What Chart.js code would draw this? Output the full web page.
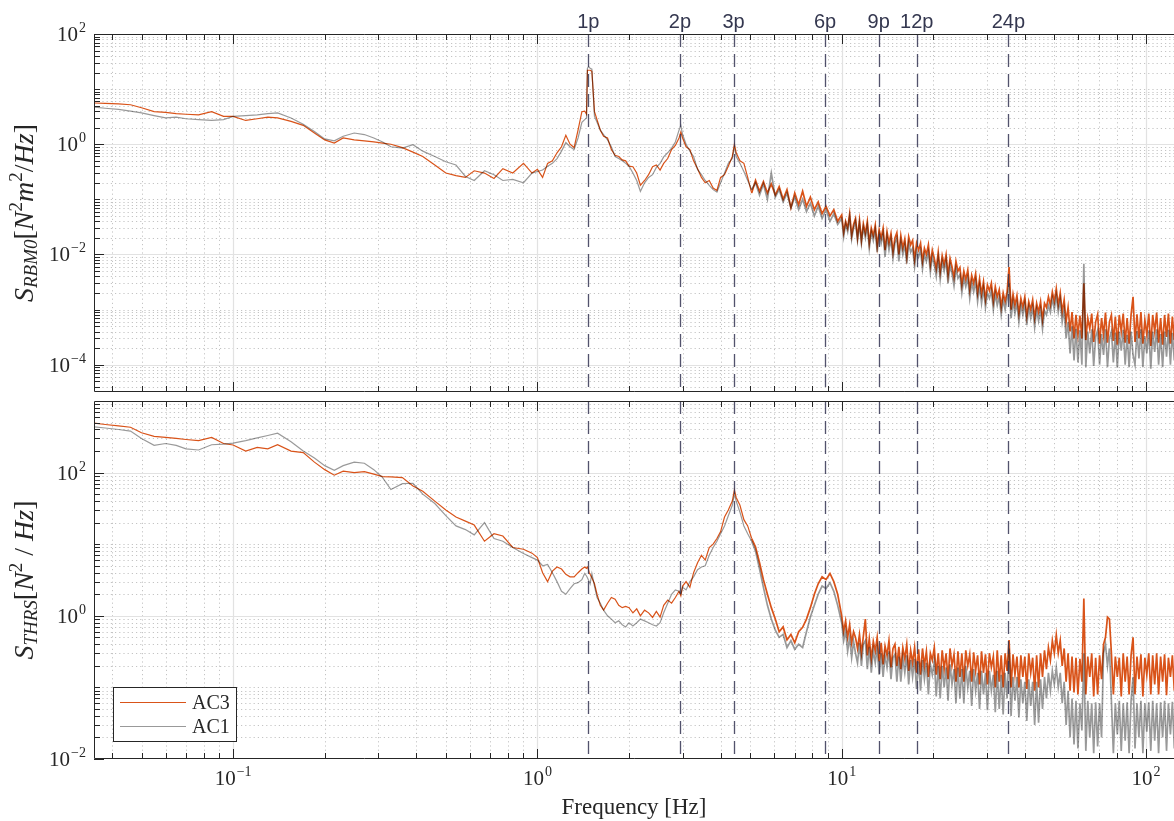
<!DOCTYPE html>
<html><head><meta charset="utf-8">
<script src="https://cdn.jsdelivr.net/npm/chart.js@4.4.1/dist/chart.umd.min.js"></script>
<style>
html,body{margin:0;padding:0;background:#fff;overflow:hidden;}
#wrap{position:relative;width:1174px;height:821px;background:#fff;}
canvas{position:absolute;left:0;}
#c1{top:0}
#c2{top:396px}
</style></head><body>
<div id="wrap"><canvas id="c1" width="1174" height="396"></canvas><canvas id="c2" width="1174" height="425"></canvas></div>
<script>
// ---------------- DATA ----------------
const freq = [
 0.035,0.038,0.042,0.046,0.05,0.055,0.06,0.065,0.07,0.077,0.085,0.093,0.1,0.11,0.12,0.13,0.14,0.155,0.17,0.185,0.2,0.215,0.23,0.25,0.27,0.29,0.31,0.33,0.36,0.39,0.42,0.46,0.5,0.54,0.58,0.62,0.67,0.72,0.77,0.83,0.9,0.96,
 1.0,1.04,1.08,1.12,1.16,1.2,1.24,1.28,1.32,1.36,1.4,1.43,1.45,1.46,1.47,1.48,1.49,1.51,1.54,1.57,1.61,1.65,1.7,1.75,1.8,1.85,1.9,1.95,
 2.0,2.06,2.12,2.18,2.25,2.32,2.39,2.46,2.53,2.6,2.68,2.76,2.84,2.92,2.96,3.0,3.08,3.17,3.26,3.36,3.46,3.56,3.67,3.78,3.89,4.0,4.12,4.24,4.37,4.44,4.5,4.63,4.77,4.91,5.06,5.21,5.37,5.53,5.7,5.87,6.05,6.23,6.42,6.61,6.81,7.01,7.22,7.44,7.66,7.89,8.13,8.37,8.62,8.88,9.15,9.42,9.7,
 10,10.15,10.3,10.46,10.62,10.78,10.94,11.1,11.27,11.44,
 11.61,11.78,11.96,12.14,12.32,12.51,12.7,12.89,13.08,13.28,
 13.48,13.68,13.88,14.09,14.3,14.52,14.74,14.96,15.18,15.41,
 15.64,15.88,16.12,16.36,16.6,16.85,17.1,17.36,17.62,17.89,
 18.16,18.43,18.7,18.98,19.27,19.56,19.85,20.15,20.45,20.76,
 21.07,21.39,21.71,22.03,22.36,22.7,23.04,23.39,23.74,24.1,
 24.46,24.82,25.2,25.57,25.96,26.35,26.74,27.14,27.55,27.96,
 28.38,28.81,29.24,29.68,30.12,30.58,31.03,31.5,31.97,32.45,
 32.94,33.43,33.93,34.44,34.96,35.48,36.02,36.56,37.1,37.66,
 38.22,38.8,39.38,39.97,40.57,41.18,41.8,42.42,43.06,43.71,
 44.36,45.03,45.7,46.39,47.08,47.79,48.51,49.23,49.97,50.72,
 51.48,52.26,53.04,53.84,54.64,55.46,56.3,57.14,58,58.87,
 59.75,60.65,61.56,62.48,63.42,64.37,65.34,66.32,67.31,68.32,
 69.35,70.39,71.44,72.52,73.6,74.71,75.83,76.97,78.12,79.3,
 80.49,81.69,82.92,84.16,85.42,86.7,88,89.32,90.66,92.02,
 93.4,94.8,96.23,97.67,99.14,100.6,102.1,103.7,105.2,106.8,
 108.4,110,111.7,113.4,115.1,116.8,118.5,120.3,122.1,123.9
];

// S_RBM0 [N^2 m^2 / Hz]
const ac3Rbm0 = [
 5.6,5.5,5.4,5.2,4.6,3.9,3.8,3.6,3.5,3.4,3.9,3.2,3.2,2.7,2.9,3.1,3.0,2.6,2.2,1.6,1.2,1.05,1.3,1.2,1.15,1.1,1.05,1.0,0.87,0.72,0.6,0.42,0.3,0.27,0.25,0.33,0.3,0.24,0.36,0.3,0.45,0.3,
 0.35,0.25,0.45,0.5,0.7,0.9,1.45,1.0,0.87,1.8,3.9,4.0,3.5,22,22,22,22,21,3.9,2.8,1.8,1.4,1.3,0.8,0.63,0.6,0.52,0.5,
 0.4,0.39,0.3,0.18,0.22,0.28,0.39,0.42,0.34,0.45,0.55,0.8,0.95,1.3,1.66,1.3,0.9,0.8,0.5,0.36,0.25,0.2,0.22,0.16,0.145,0.25,0.28,0.4,0.6,1.0,0.7,0.5,0.45,0.25,0.13,0.22,0.14,0.21,0.13,0.19,0.12,0.17,0.1,0.15,0.07,0.13,0.08,0.14,0.075,0.11,0.065,0.09,0.055,0.075,0.05,0.065,0.04,
 0.052,0.025,0.04,0.03,0.055,0.022,0.035,0.045,0.02,0.042,
 0.018,0.036,0.024,0.04,0.016,0.03,0.022,0.034,0.014,0.028,
 0.02,0.03,0.012,0.026,0.016,0.024,0.011,0.02,0.025,0.01,
 0.022,0.013,0.019,0.009,0.021,0.015,0.018,0.008,0.016,0.012,
 0.016,0.0075,0.013,0.01,0.015,0.0065,0.012,0.0085,0.0055,0.011,
 0.0048,0.0095,0.0065,0.01,0.0042,0.0085,0.006,0.0038,0.0075,0.005,
 0.0058,0.0028,0.005,0.0035,0.0052,0.0023,0.0042,0.003,0.0045,0.002,
 0.0036,0.0019,0.0032,0.0015,0.0028,0.0022,0.003,0.0014,0.0026,0.0017,
 0.0023,0.0011,0.002,0.0014,0.0021,0.0059,0.001,0.0019,0.0012,0.0018,
 0.00085,0.0016,0.0011,0.0017,0.00075,0.0014,0.001,0.0015,0.0007,0.0013,
 0.0009,0.0014,0.00065,0.0013,0.0011,0.0017,0.0012,0.0021,0.0014,0.0024,
 0.0012,0.002,0.0009,0.0015,0.0006,0.0011,0.0004,0.0009,0.0003,0.0008,
 0.00035,0.00078,0.0003,0.003,0.00028,0.0007,0.00045,0.00085,0.00026,0.0006,
 0.00082,0.00024,0.0007,0.00035,0.00088,0.00025,0.0006,0.0008,0.00027,0.00075,
 0.00023,0.0008,0.0004,0.00085,0.00025,0.0007,0.00024,0.0008,0.0017,0.00026,
 0.00082,0.0003,0.0009,0.00024,0.00065,0.00035,0.00085,0.00022,0.0008,0.0004,
 0.00088,0.00025,0.0007,0.00023,0.0008,0.00032,0.00085,0.00024,0.00075,0.00028
];
const ac1Rbm0 = [
 4.7,4.5,4.3,4.0,3.7,3.3,3.0,3.1,2.9,2.8,2.7,2.8,3.2,3.3,3.4,3.6,3.7,3.0,2.3,1.7,1.25,1.15,1.4,1.6,1.5,1.3,1.1,0.9,0.85,0.98,0.75,0.6,0.48,0.42,0.26,0.22,0.33,0.28,0.22,0.23,0.2,0.3,
 0.32,0.34,0.4,0.45,0.55,0.75,1.07,0.9,0.8,1.3,2.5,2.8,3.0,24,25,25,24,23,3.2,2.5,1.8,1.5,1.2,0.9,0.6,0.55,0.5,0.45,
 0.4,0.3,0.22,0.14,0.2,0.25,0.28,0.38,0.45,0.59,0.7,0.85,1.1,1.8,2.2,1.5,1.0,0.75,0.6,0.35,0.28,0.22,0.18,0.15,0.135,0.2,0.3,0.45,0.55,0.9,0.6,0.45,0.32,0.22,0.15,0.2,0.12,0.19,0.1,0.3,0.11,0.15,0.09,0.13,0.07,0.11,0.065,0.1,0.06,0.085,0.05,0.075,0.045,0.065,0.04,0.055,0.035,
 0.045,0.021,0.036,0.026,0.048,0.019,0.03,0.04,0.018,0.036,
 0.016,0.031,0.02,0.033,0.013,0.026,0.018,0.028,0.011,0.024,
 0.016,0.024,0.009,0.021,0.012,0.019,0.0085,0.016,0.02,0.0075,
 0.017,0.01,0.015,0.0068,0.016,0.011,0.013,0.006,0.012,0.009,
 0.012,0.0055,0.01,0.0075,0.011,0.0048,0.0092,0.0065,0.004,0.0085,
 0.0035,0.0075,0.005,0.0078,0.003,0.0065,0.0045,0.0027,0.0056,0.0037,
 0.0043,0.002,0.0037,0.0026,0.0038,0.0016,0.0031,0.0021,0.0033,0.0014,
 0.0027,0.0013,0.0024,0.0011,0.002,0.0016,0.0022,0.001,0.0019,0.0012,
 0.0017,0.0008,0.0015,0.001,0.0016,0.003,0.0007,0.0014,0.00085,0.0013,
 0.0006,0.0012,0.0008,0.0013,0.00052,0.0011,0.0007,0.0011,0.00048,0.001,
 0.00062,0.001,0.00045,0.00095,0.0008,0.0012,0.0009,0.0016,0.001,0.0018,
 0.0009,0.0015,0.0006,0.001,0.0003,0.0006,0.00016,0.0005,0.00012,0.00045,
 0.00011,0.00042,0.0001,0.0068,0.00009,0.0004,0.00016,0.00044,0.000095,0.00032,
 0.00042,0.0001,0.00036,0.00015,0.00044,0.00009,0.0003,0.0004,0.00011,0.00038,
 0.000088,0.0004,0.00018,0.00043,0.0001,0.00035,0.00009,0.0004,0.00015,0.0001,
 0.00041,0.00013,0.00044,0.00009,0.00033,0.00016,0.00042,0.000085,0.0004,0.00017,
 0.00044,0.0001,0.00036,0.00009,0.0004,0.00014,0.00043,0.0001,0.00038,0.00012
];

// S_THRS [N^2 / Hz]
const ac3Thrs = [
 490,470,450,430,360,320,310,300,290,280,310,255,243,200,225,215,245,200,190,140,110,92,105,100,103,95,88,87,85,65,55,40,30,24,21,18.5,11,14,13,9,8.5,7.5,
 6.5,4.0,3.0,4.2,4.8,4.5,3.8,3.5,3.5,4.0,4.5,4.8,4.6,4.8,4.5,4.0,3.8,3.4,2.8,2.0,1.4,1.2,1.5,1.8,1.7,1.4,1.3,1.35,
 1.3,1.1,1.25,1.0,1.2,1.1,0.95,1.15,0.96,1.4,1.66,1.5,1.8,2.2,1.9,2.6,3.0,2.5,4.0,5.5,7.0,6.0,9.0,10,12,15,24,30,40,57,45,35,22,18,12,9.1,5.5,3.2,2.0,1.3,0.9,0.6,0.7,0.46,0.55,0.42,0.6,0.69,0.9,1.3,2.0,2.8,3.5,3.2,3.9,3.0,2.0,
 1.0,0.6,0.85,0.5,0.75,0.42,0.6,0.5,0.35,0.55,
 0.3,0.52,0.9,0.28,0.48,0.25,0.44,0.32,0.5,0.23,
 0.42,0.21,0.38,0.28,0.45,0.19,0.35,0.4,0.2,0.37,
 0.18,0.36,0.25,0.4,0.17,0.33,0.22,0.36,0.16,0.34,
 0.15,0.35,0.2,0.32,0.14,0.3,0.24,0.36,0.15,0.3,
 0.13,0.33,0.18,0.3,0.13,0.35,0.2,0.29,0.12,0.32,
 0.14,0.3,0.12,0.33,0.2,0.29,0.12,0.31,0.17,0.28,
 0.11,0.32,0.16,0.29,0.11,0.3,0.19,0.27,0.1,0.33,
 0.12,0.28,0.1,0.3,0.17,0.46,0.1,0.29,0.15,0.27,
 0.1,0.28,0.14,0.27,0.095,0.3,0.16,0.26,0.09,0.28,
 0.1,0.3,0.14,0.33,0.18,0.36,0.24,0.45,0.3,0.54,
 0.3,0.45,0.2,0.35,0.12,0.3,0.09,0.27,0.085,0.26,
 0.08,0.25,0.12,1.74,0.08,0.27,0.14,0.3,0.075,0.26,
 0.08,0.28,0.13,0.4,0.5,0.96,0.9,0.3,0.08,0.27,
 0.14,0.26,0.075,0.3,0.12,0.27,0.08,0.28,0.5,0.08,
 0.27,0.13,0.29,0.075,0.26,0.15,0.3,0.08,0.28,0.11,
 0.3,0.08,0.27,0.12,0.29,0.078,0.26,0.14,0.28,0.09
];
const ac1Thrs = [
 436,420,400,380,300,240,255,240,215,207,245,250,258,280,305,330,355,270,200,160,125,108,125,140,135,110,85,58,70,71,50,37,25,18,16,13.5,20,12,11,9,7.4,6.5,
 6.0,5.0,5.2,4.0,3.0,2.2,2.0,2.4,2.8,2.9,3.2,3.9,3.6,3.4,3.2,3.0,2.8,3.9,2.6,1.8,1.5,1.2,1.0,0.9,0.8,0.85,0.75,0.7,
 0.8,0.72,0.8,0.9,0.85,0.8,0.75,0.72,0.8,1.1,1.5,2.0,2.3,2.2,2.0,2.5,2.3,3.0,3.5,4.4,4.8,5.0,7.0,9,11,14,18,25,35,50,40,28,18,14,11,8,4.5,2.5,1.4,0.9,0.63,0.5,0.55,0.36,0.45,0.34,0.4,0.36,0.6,0.96,1.4,2.0,2.6,2.4,2.9,2.2,1.4,
 0.8,0.45,0.62,0.32,0.5,0.26,0.44,0.3,0.22,0.42,
 0.2,0.4,0.45,0.18,0.37,0.16,0.33,0.22,0.35,0.15,
 0.3,0.14,0.28,0.19,0.32,0.13,0.26,0.29,0.12,0.27,
 0.12,0.26,0.16,0.28,0.11,0.24,0.14,0.25,0.095,0.23,
 0.09,0.24,0.13,0.22,0.08,0.21,0.15,0.23,0.075,0.2,
 0.07,0.2,0.1,0.19,0.065,0.21,0.11,0.18,0.06,0.19,
 0.07,0.18,0.06,0.2,0.1,0.17,0.055,0.18,0.09,0.16,
 0.05,0.17,0.08,0.16,0.048,0.17,0.09,0.15,0.045,0.17,
 0.05,0.15,0.042,0.16,0.07,0.35,0.04,0.14,0.065,0.14,
 0.038,0.13,0.06,0.12,0.034,0.13,0.055,0.12,0.03,0.12,
 0.032,0.13,0.05,0.14,0.07,0.16,0.09,0.17,0.11,0.19,
 0.1,0.16,0.06,0.12,0.03,0.09,0.02,0.07,0.016,0.065,
 0.014,0.06,0.025,0.3,0.013,0.065,0.02,0.06,0.012,0.062,
 0.015,0.06,0.02,0.3,0.4,0.2,0.35,0.065,0.012,0.06,
 0.022,0.065,0.013,0.06,0.018,0.062,0.012,0.065,0.14,0.014,
 0.06,0.02,0.065,0.012,0.06,0.024,0.062,0.013,0.065,0.018,
 0.06,0.012,0.062,0.02,0.065,0.013,0.06,0.022,0.063,0.014
];

const seriesNames = ['AC3', 'AC1'];
const rotorFreq = 1.47;                       // 1p frequency [Hz]
const harmonicOrders = [1, 2, 3, 6, 9, 12, 24];
const harmonicLabels = ['1p', '2p', '3p', '6p', '9p', '12p', '24p'];
const xTickExps = [-1, 0, 1, 2];
const topYTickExps = [-4, -2, 0, 2];
const botYTickExps = [-2, 0, 2];
const xLabel = 'Frequency [Hz]';

// ---------------- STYLE / DRAWING ----------------
const SERIF = '"Liberation Serif","DejaVu Serif",serif';
const SANS = '"Liberation Sans","DejaVu Sans",sans-serif';
const ORANGE = '#D95319';
const GRAY = 'rgba(0,0,0,0.4)';
const INK = '#262626';

function drawPow(ctx, exp, x, y, align) {
  const base = '10', sup = exp < 0 ? '\u2212' + (-exp) : String(exp);
  ctx.font = '21px ' + SERIF; const bw = ctx.measureText(base).width;
  ctx.font = '14px ' + SERIF; const sw = ctx.measureText(sup).width;
  const total = bw + sw + 1;
  const x0 = align === 'right' ? x - total : x - total / 2;
  ctx.textAlign = 'left'; ctx.textBaseline = 'alphabetic'; ctx.fillStyle = INK;
  ctx.font = '21px ' + SERIF; ctx.fillText(base, x0, y + 7);
  ctx.font = '14px ' + SERIF; ctx.fillText(sup, x0 + bw + 1, y - 2);
}

function drawTitle(ctx, segs, bx, cy) {
  let total = 0;
  for (const s of segs) { ctx.font = s.f; s.w = ctx.measureText(s.t).width + (s.g || 0); total += s.w; }
  ctx.save(); ctx.translate(bx, cy); ctx.rotate(-Math.PI / 2);
  ctx.textAlign = 'left'; ctx.textBaseline = 'alphabetic'; ctx.fillStyle = INK;
  let x = -total / 2;
  for (const s of segs) { ctx.font = s.f; ctx.fillText(s.t, x + (s.g || 0) / 2, s.dy || 0); x += s.w; }
  ctx.restore();
}
const IT = 'italic 28px ' + SERIF, RM = '28px ' + SERIF, SUBI = 'italic 19px ' + SERIF, SUP = '19px ' + SERIF;
const topTitle = [{t:'S',f:IT},{t:'RBM0',f:SUBI,dy:4},{t:'[',f:RM},{t:'N',f:IT},{t:'2',f:SUP,dy:-11},{t:'m',f:IT},{t:'2',f:SUP,dy:-11},{t:'/',f:RM},{t:'Hz',f:IT},{t:']',f:RM}];
const botTitle = [{t:'S',f:IT},{t:'THRS',f:SUBI,dy:4},{t:'[',f:RM},{t:'N',f:IT},{t:'2',f:SUP,dy:-11},{t:'/',f:RM,g:14},{t:'Hz',f:IT},{t:']',f:RM}];

function eachMinor(min, max, majorExps, cb) {
  for (let k = Math.floor(Math.log10(min)) - 1; k <= Math.ceil(Math.log10(max)); k++) {
    for (let m = 1; m <= 9; m++) {
      if (m === 1 && majorExps.includes(k)) continue;
      const v = m * Math.pow(10, k);
      if (v <= min * 1.0001 || v >= max * 0.9999) continue;
      cb(v);
    }
  }
}

const mplPlugin = {
  id: 'mpl',
  beforeDatasetsDraw(chart, args, o) {
    const { ctx, chartArea: a, scales: { x, y } } = chart;
    ctx.save();
    ctx.beginPath(); ctx.rect(a.left, a.top, a.right - a.left, a.bottom - a.top); ctx.clip();
    ctx.lineWidth = 1;
    ctx.strokeStyle = '#c4c4c4'; ctx.setLineDash([1.2, 3]);
    ctx.beginPath();
    eachMinor(x.min, x.max, xTickExps, v => { const p = Math.round(x.getPixelForValue(v)) + 0.5; ctx.moveTo(p, a.top); ctx.lineTo(p, a.bottom); });
    eachMinor(y.min, y.max, o.yExps, v => { const p = Math.round(y.getPixelForValue(v)) + 0.5; ctx.moveTo(a.left, p); ctx.lineTo(a.right, p); });
    ctx.stroke();
    ctx.setLineDash([]); ctx.strokeStyle = '#e2e2e2'; ctx.lineWidth = 1.2;
    ctx.beginPath();
    xTickExps.forEach(e => { const p = Math.round(x.getPixelForValue(Math.pow(10, e))) + 0.5; ctx.moveTo(p, a.top); ctx.lineTo(p, a.bottom); });
    o.yExps.forEach(e => { const p = Math.round(y.getPixelForValue(Math.pow(10, e))) + 0.5; ctx.moveTo(a.left, p); ctx.lineTo(a.right, p); });
    ctx.stroke();
    ctx.restore();
  },
  afterDatasetsDraw(chart, args, o) {
    const { ctx, chartArea: a, scales: { x, y } } = chart;
    ctx.save();
    ctx.save();
    ctx.beginPath(); ctx.rect(a.left, a.top, a.right - a.left, a.bottom - a.top); ctx.clip();
    ctx.strokeStyle = 'rgba(52,52,82,0.85)'; ctx.lineWidth = 1.3; ctx.setLineDash([13, 7]);
    harmonicOrders.forEach(h => {
      const p = Math.round(x.getPixelForValue(h * rotorFreq)) + 0.5;
      ctx.beginPath(); ctx.moveTo(p, a.top); ctx.lineTo(p, a.bottom); ctx.stroke();
    });
    ctx.restore();
    if (o.harmonicText) {
      ctx.font = '20px ' + SANS; ctx.fillStyle = '#34374f'; ctx.textAlign = 'center'; ctx.textBaseline = 'alphabetic';
      harmonicOrders.forEach((h, i) => ctx.fillText(harmonicLabels[i], x.getPixelForValue(h * rotorFreq), a.top - 6));
    }
    ctx.strokeStyle = INK; ctx.lineWidth = 1; ctx.setLineDash([]);
    ctx.beginPath();
    ctx.moveTo(a.right, a.top + 0.5); ctx.lineTo(a.left + 0.5, a.top + 0.5); ctx.lineTo(a.left + 0.5, a.bottom - 0.5); ctx.lineTo(a.right, a.bottom - 0.5);
    ctx.stroke();
    ctx.beginPath();
    const xt = (v, len) => { const p = Math.round(x.getPixelForValue(v)) + 0.5; ctx.moveTo(p, a.bottom); ctx.lineTo(p, a.bottom - len); ctx.moveTo(p, a.top); ctx.lineTo(p, a.top + len); };
    xTickExps.forEach(e => xt(Math.pow(10, e), 10));
    eachMinor(x.min, x.max, xTickExps, v => xt(v, 6));
    const yt = (v, len) => { const p = Math.round(y.getPixelForValue(v)) + 0.5; ctx.moveTo(a.left, p); ctx.lineTo(a.left + len, p); };
    o.yExps.forEach(e => yt(Math.pow(10, e), 10));
    eachMinor(y.min, y.max, o.yExps, v => yt(v, 6));
    ctx.stroke();
    o.yExps.forEach(e => drawPow(ctx, e, a.left - 8, y.getPixelForValue(Math.pow(10, e)), 'right'));
    drawTitle(ctx, o.title, 33, o.titleCY);
    if (o.xLabels) {
      xTickExps.forEach(e => drawPow(ctx, e, x.getPixelForValue(Math.pow(10, e)), a.bottom + 19, 'center'));
      ctx.font = '23px ' + SERIF; ctx.fillStyle = INK; ctx.textAlign = 'center'; ctx.textBaseline = 'alphabetic';
      ctx.fillText(xLabel, (a.left + a.right) / 2, a.bottom + 55);
    }
    if (o.legend) {
      const bx = 113.5, by = a.bottom - 71.5, bw = 123, bh = 54;
      ctx.fillStyle = '#fff'; ctx.fillRect(bx, by, bw, bh);
      ctx.strokeStyle = INK; ctx.lineWidth = 1; ctx.strokeRect(bx, by, bw, bh);
      const cols = [ORANGE, GRAY];
      [0, 1].forEach(i => {
        const ly = by + 15 + i * 24;
        ctx.strokeStyle = cols[i]; ctx.lineWidth = 1.2; ctx.beginPath(); ctx.moveTo(120, ly); ctx.lineTo(186, ly); ctx.stroke();
        ctx.fillStyle = INK; ctx.font = '20px ' + SERIF; ctx.textAlign = 'left'; ctx.textBaseline = 'middle';
        ctx.fillText(seriesNames[i], 192, ly + 1);
      });
    }
    ctx.restore();
  }
};

// thicker strokes where the spectra are dense and noisy (above ~5 Hz)
const segWidth = c => (c.p0.parsed.x >= 5 ? 1.7 : 1.2);

function makeChart(id, ac3, ac1, yMin, yMax, pad, pluginOpts) {
  return new Chart(document.getElementById(id), {
    type: 'line',
    data: { datasets: [
      { label: seriesNames[0], data: freq.map((f, i) => ({ x: f, y: ac3[i] })), borderColor: ORANGE, borderWidth: 1.2, pointRadius: 0, order: 1, segment: { borderWidth: segWidth } },
      { label: seriesNames[1], data: freq.map((f, i) => ({ x: f, y: ac1[i] })), borderColor: GRAY, borderWidth: 1.2, pointRadius: 0, order: 0, segment: { borderWidth: segWidth } }
    ] },
    options: {
      responsive: false, animation: false, events: [],
      layout: { padding: pad },
      elements: { line: { tension: 0 } },
      scales: {
        x: { type: 'logarithmic', min: 0.0349, max: 123.6, display: false },
        y: { type: 'logarithmic', min: yMin, max: yMax, display: false }
      },
      plugins: { legend: { display: false }, tooltip: { enabled: false }, mpl: pluginOpts }
    },
    plugins: [mplPlugin]
  });
}

makeChart('c1', ac3Rbm0, ac1Rbm0, 3.2e-5, 100, { left: 94, top: 34, right: 0, bottom: 4 },
  { yExps: topYTickExps, title: topTitle, titleCY: 213, harmonicText: true, xLabels: false, legend: false });
makeChart('c2', ac3Thrs, ac1Thrs, 0.01, 1000, { left: 94, top: 5, right: 0, bottom: 62 },
  { yExps: botYTickExps, title: botTitle, titleCY: 184, harmonicText: false, xLabels: true, legend: true });
</script>
</body></html>
